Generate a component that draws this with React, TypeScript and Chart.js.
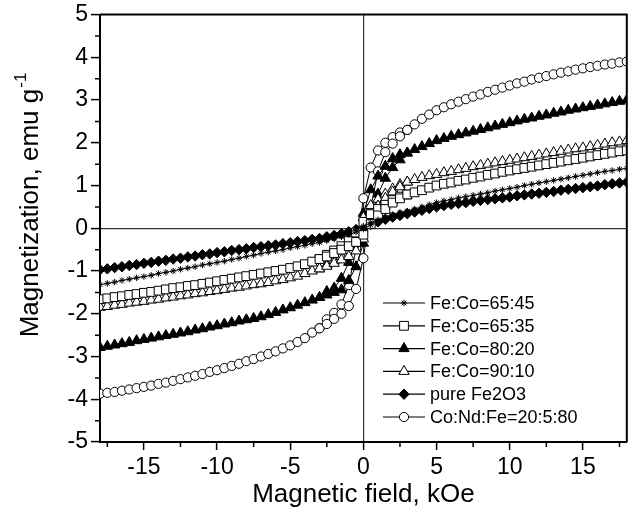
import React, { useEffect, useRef } from 'react';
import { Chart, registerables } from 'chart.js';

Chart.register(...registerables);

// Magnetic field (kOe), main branch sampling
const field = [
  -18, -17.5, -17, -16.5, -16, -15.5, -15, -14.5, -14, -13.5, -13, -12.5, -12, -11.5, -11, -10.5,
  -10, -9.5, -9, -8.5, -8, -7.5, -7, -6.5, -6, -5.5, -5, -4.5, -4, -3.5, -3, -2.5, -2, -1.5, -1, -0.5,
  0, 0.5, 1, 1.5, 2, 2.5, 3, 3.5, 4, 4.5, 5, 5.5, 6, 6.5, 7, 7.5, 8, 8.5, 9, 9.5, 10, 10.5,
  11, 11.5, 12, 12.5, 13, 13.5, 14, 14.5, 15, 15.5, 16, 16.5, 17, 17.5, 18,
];

// Fe:Co=65:45
const fe6545 = [
  -1.32, -1.29, -1.26, -1.22, -1.19, -1.16, -1.13, -1.1, -1.06, -1.03, -1.0, -0.96, -0.93, -0.9, -0.86, -0.83,
  -0.8, -0.77, -0.73, -0.7, -0.66, -0.63, -0.59, -0.56, -0.53, -0.5, -0.46, -0.43, -0.4, -0.36, -0.33, -0.29, -0.25, -0.2, -0.15, -0.09,
  -0.02, 0.08, 0.17, 0.24, 0.3, 0.35, 0.4, 0.45, 0.5, 0.55, 0.6, 0.64, 0.67, 0.71, 0.74, 0.77, 0.8, 0.83, 0.87, 0.9, 0.93, 0.96,
  1.0, 1.03, 1.06, 1.09, 1.12, 1.15, 1.18, 1.21, 1.24, 1.27, 1.3, 1.33, 1.35, 1.38, 1.4,
];
// Fe:Co=65:35
const fe6535 = [
  -1.66, -1.64, -1.61, -1.59, -1.56, -1.54, -1.51, -1.49, -1.46, -1.43, -1.4, -1.38, -1.35, -1.33, -1.3, -1.27,
  -1.24, -1.21, -1.18, -1.15, -1.12, -1.09, -1.06, -1.03, -1.0, -0.97, -0.93, -0.89, -0.84, -0.78, -0.72, -0.66, -0.58, -0.5, -0.42, -0.32,
  -0.15, 0.1, 0.3, 0.45, 0.6, 0.7, 0.79, 0.84, 0.89, 0.95, 1.0, 1.04, 1.07, 1.11, 1.14, 1.18, 1.21, 1.25, 1.28, 1.32, 1.35, 1.38,
  1.41, 1.44, 1.47, 1.5, 1.53, 1.56, 1.59, 1.62, 1.65, 1.68, 1.71, 1.74, 1.77, 1.8, 1.82,
];
// Fe:Co=80:20
const fe8020 = [
  -2.79, -2.76, -2.73, -2.7, -2.67, -2.63, -2.6, -2.57, -2.54, -2.51, -2.48, -2.45, -2.42, -2.38, -2.35, -2.31,
  -2.28, -2.24, -2.21, -2.17, -2.14, -2.11, -2.07, -2.02, -1.97, -1.91, -1.86, -1.8, -1.74, -1.68, -1.62, -1.56, -1.5, -1.44, -1.22, -0.9,
  -0.35, 0.25, 0.8, 1.17, 1.42, 1.6, 1.76, 1.84, 1.91, 1.98, 2.05, 2.1, 2.15, 2.19, 2.23, 2.27, 2.31, 2.35, 2.39, 2.43, 2.47, 2.51,
  2.55, 2.58, 2.62, 2.65, 2.69, 2.72, 2.76, 2.79, 2.82, 2.85, 2.88, 2.91, 2.94, 2.97, 3.0,
];
// Fe:Co=90:10
const fe9010 = [
  -1.85, -1.83, -1.8, -1.78, -1.75, -1.73, -1.71, -1.68, -1.66, -1.63, -1.61, -1.58, -1.56, -1.53, -1.51, -1.48,
  -1.46, -1.43, -1.4, -1.38, -1.35, -1.32, -1.3, -1.27, -1.23, -1.2, -1.16, -1.12, -1.06, -1.0, -0.95, -0.89, -0.82, -0.74, -0.66, -0.53,
  -0.25, 0.2, 0.52, 0.7, 0.85, 0.97, 1.08, 1.14, 1.19, 1.23, 1.26, 1.3, 1.33, 1.37, 1.4, 1.44, 1.47, 1.5, 1.53, 1.56, 1.59, 1.62,
  1.65, 1.68, 1.71, 1.74, 1.77, 1.8, 1.83, 1.86, 1.88, 1.91, 1.94, 1.97, 2.0, 2.02, 2.05,
];
// pure Fe2O3
const fe2o3 = [
  -0.97, -0.95, -0.92, -0.9, -0.87, -0.85, -0.82, -0.8, -0.77, -0.75, -0.72, -0.7, -0.67, -0.65, -0.62, -0.6,
  -0.57, -0.55, -0.52, -0.5, -0.48, -0.45, -0.43, -0.41, -0.39, -0.36, -0.34, -0.31, -0.29, -0.26, -0.24, -0.2, -0.17, -0.13, -0.08, -0.03,
  0.03, 0.09, 0.15, 0.21, 0.26, 0.3, 0.34, 0.38, 0.42, 0.46, 0.5, 0.53, 0.56, 0.58, 0.6, 0.63, 0.65, 0.67, 0.69, 0.71, 0.73, 0.76,
  0.78, 0.8, 0.82, 0.84, 0.86, 0.89, 0.91, 0.93, 0.95, 0.97, 0.99, 1.02, 1.04, 1.06, 1.08,
];
// Co:Nd:Fe=20:5:80
const coNdFe = [
  -3.87, -3.85, -3.83, -3.8, -3.77, -3.74, -3.71, -3.68, -3.64, -3.61, -3.57, -3.53, -3.49, -3.45, -3.41, -3.36,
  -3.32, -3.27, -3.22, -3.17, -3.11, -3.06, -3.0, -2.94, -2.88, -2.81, -2.74, -2.66, -2.57, -2.44, -2.34, -2.24, -2.12, -2.0, -1.82, -1.42,
  -0.7, 0.48, 1.33, 1.78, 1.98, 2.15, 2.3, 2.43, 2.56, 2.66, 2.76, 2.83, 2.9, 2.96, 3.02, 3.08, 3.13, 3.19, 3.24, 3.29, 3.34, 3.39,
  3.43, 3.48, 3.52, 3.56, 3.6, 3.64, 3.67, 3.71, 3.74, 3.77, 3.8, 3.83, 3.85, 3.88, 3.9,
];

// Return branch of the hysteresis loop near zero field
const loopField = [-3, -2.5, -2, -1.5, -1, -0.5, 0, 0.5, 1, 1.5, 2, 2.5, 3];
const fe6545Ret = [-0.33, -0.27, -0.22, -0.16, -0.1, -0.03, 0.05, 0.13, 0.2, 0.26, 0.32, 0.37, 0.4];
const fe6535Ret = [-0.72, -0.62, -0.52, -0.42, -0.3, -0.1, 0.15, 0.33, 0.45, 0.55, 0.66, 0.74, 0.79];
const fe8020Ret = [-1.62, -1.48, -1.4, -1.17, -0.8, -0.25, 0.35, 0.9, 1.22, 1.45, 1.63, 1.72, 1.76];
const fe9010Ret = [-0.95, -0.85, -0.76, -0.66, -0.52, -0.2, 0.25, 0.53, 0.68, 0.8, 0.92, 1.02, 1.08];
const coNdFeRet = [-2.34, -2.13, -1.98, -1.78, -1.33, -0.48, 0.7, 1.42, 1.82, 2.0, 2.13, 2.24, 2.3];

const xTicks = [-15, -10, -5, 0, 5, 10, 15];
const xMinorTicks = [-17.5, -12.5, -7.5, -2.5, 2.5, 7.5, 12.5, 17.5];
const yMinorTicks = [-4.5, -3.5, -2.5, -1.5, -0.5, 0.5, 1.5, 2.5, 3.5, 4.5];

const seriesLabels = [
  'Fe:Co=65:45',
  'Fe:Co=65:35',
  'Fe:Co=80:20',
  'Fe:Co=90:10',
  'pure Fe2O3',
  'Co:Nd:Fe=20:5:80',
];

const FONT = "'Liberation Sans', Arial, sans-serif";

type Style = { pointStyle: string; radius: number; fill: string };
const styles: Style[] = [
  { pointStyle: 'star', radius: 3.2, fill: '#000' },
  { pointStyle: 'rect', radius: 6.2, fill: '#fff' },
  { pointStyle: 'triangle', radius: 6, fill: '#000' },
  { pointStyle: 'triangle', radius: 6, fill: '#fff' },
  { pointStyle: 'rectRot', radius: 5.2, fill: '#000' },
  { pointStyle: 'circle', radius: 4.6, fill: '#fff' },
];

function drawMarker(ctx: CanvasRenderingContext2D, s: Style, x: number, y: number) {
  const r = s.radius;
  ctx.save();
  ctx.beginPath();
  ctx.lineWidth = 1;
  ctx.strokeStyle = '#000';
  ctx.fillStyle = s.fill;
  if (s.pointStyle === 'circle') {
    ctx.arc(x, y, r, 0, Math.PI * 2);
    ctx.fill();
    ctx.stroke();
  } else if (s.pointStyle === 'rect') {
    const h = r * Math.SQRT1_2;
    ctx.rect(x - h, y - h, 2 * h, 2 * h);
    ctx.fill();
    ctx.stroke();
  } else if (s.pointStyle === 'triangle') {
    for (let k = 0; k < 3; k++) {
      const a = -Math.PI / 2 + (k * 2 * Math.PI) / 3;
      const px = x + Math.cos(a) * r;
      const py = y + Math.sin(a) * r;
      if (k === 0) ctx.moveTo(px, py);
      else ctx.lineTo(px, py);
    }
    ctx.closePath();
    ctx.fill();
    ctx.stroke();
  } else if (s.pointStyle === 'rectRot') {
    ctx.moveTo(x, y - r);
    ctx.lineTo(x + r, y);
    ctx.lineTo(x, y + r);
    ctx.lineTo(x - r, y);
    ctx.closePath();
    ctx.fill();
    ctx.stroke();
  } else {
    for (let k = 0; k < 4; k++) {
      const a = (k * Math.PI) / 4;
      ctx.moveTo(x - Math.cos(a) * r, y - Math.sin(a) * r);
      ctx.lineTo(x + Math.cos(a) * r, y + Math.sin(a) * r);
    }
    ctx.stroke();
  }
  ctx.restore();
}

const decorations = {
  id: 'decorations',
  afterDatasetsDraw(chart: any) {
    const { ctx, chartArea, scales } = chart;
    const { left, right, top, bottom } = chartArea;
    ctx.save();
    // frame top and right
    ctx.strokeStyle = '#000';
    ctx.lineWidth = 2;
    ctx.beginPath();
    ctx.moveTo(left, top);
    ctx.lineTo(right, top);
    ctx.lineTo(right, bottom);
    ctx.stroke();
    // minor ticks
    ctx.lineWidth = 1.5;
    ctx.beginPath();
    xMinorTicks.forEach((v) => {
      const px = scales.x.getPixelForValue(v);
      ctx.moveTo(px, bottom);
      ctx.lineTo(px, bottom + 5);
    });
    yMinorTicks.forEach((v) => {
      const py = scales.y.getPixelForValue(v);
      ctx.moveTo(left - 5, py);
      ctx.lineTo(left, py);
    });
    ctx.stroke();

    // legend
    const legX = 383;
    const legY0 = 303;
    const legDy = 22.8;
    ctx.font = `18px ${FONT}`;
    ctx.textBaseline = 'middle';
    ctx.textAlign = 'left';
    ctx.fillStyle = '#000';
    seriesLabels.forEach((label, i) => {
      const y = legY0 + i * legDy;
      ctx.beginPath();
      ctx.lineWidth = 1.2;
      ctx.strokeStyle = '#000';
      ctx.moveTo(legX, y);
      ctx.lineTo(legX + 42, y);
      ctx.stroke();
      drawMarker(ctx, styles[i], legX + 21, y);
      ctx.fillStyle = '#000';
      ctx.fillText(label, legX + 47, y + 1);
    });

    // axis titles
    ctx.font = `26px ${FONT}`;
    ctx.textAlign = 'center';
    ctx.textBaseline = 'alphabetic';
    ctx.fillText('Magnetic field, kOe', (left + right) / 2, 502);

    const main = 'Magnetization, emu g';
    const sup = '-1';
    ctx.font = `26px ${FONT}`;
    const wMain = ctx.measureText(main).width;
    ctx.font = `17px ${FONT}`;
    const wSup = ctx.measureText(sup).width;
    const total = wMain + wSup + 1;
    ctx.translate(38, 205);
    ctx.rotate(-Math.PI / 2);
    ctx.textAlign = 'left';
    ctx.font = `26px ${FONT}`;
    ctx.fillText(main, -total / 2, 0);
    ctx.font = `17px ${FONT}`;
    ctx.fillText(sup, -total / 2 + wMain + 1, -12);
    ctx.restore();
  },
};

function mainSet(i: number, values: number[]) {
  const s = styles[i];
  return {
    label: seriesLabels[i],
    data: field.map((x, k) => ({ x, y: values[k] })),
    borderColor: '#000',
    borderWidth: 1,
    backgroundColor: s.fill,
    pointStyle: s.pointStyle,
    pointRadius: s.radius,
    pointBorderWidth: 1,
    pointBorderColor: '#000',
    pointBackgroundColor: s.fill,
    showLine: true,
    tension: 0,
  };
}

function retSet(i: number, values: number[]) {
  const s = styles[i];
  return {
    label: seriesLabels[i] + ' (return)',
    data: loopField.map((x, k) => ({ x, y: values[k] })),
    borderColor: '#000',
    borderWidth: 1,
    backgroundColor: s.fill,
    pointStyle: s.pointStyle,
    pointRadius: s.radius,
    pointBorderWidth: 1,
    pointBorderColor: '#000',
    pointBackgroundColor: s.fill,
    showLine: true,
    tension: 0,
  };
}

export default function App() {
  const ref = useRef<HTMLCanvasElement | null>(null);
  useEffect(() => {
    if (!ref.current) return;
    const chart = new Chart(ref.current, {
      type: 'scatter',
      data: {
        datasets: [
          mainSet(0, fe6545),
          retSet(0, fe6545Ret),
          mainSet(1, fe6535),
          retSet(1, fe6535Ret),
          mainSet(3, fe9010),
          retSet(3, fe9010Ret),
          mainSet(4, fe2o3),
          mainSet(2, fe8020),
          retSet(2, fe8020Ret),
          mainSet(5, coNdFe),
          retSet(5, coNdFeRet),
        ] as any,
      },
      options: {
        responsive: false,
        animation: false,
        devicePixelRatio: 1,
        layout: { padding: { left: 0, right: 5, top: 11, bottom: 0 } },
        plugins: { legend: { display: false }, tooltip: { enabled: false }, title: { display: false } },
        scales: {
          x: {
            type: 'linear',
            min: -18,
            max: 18,
            afterFit: (s: any) => {
              s.height = 73;
            },
            afterBuildTicks: (s: any) => {
              s.ticks = xTicks.map((v) => ({ value: v }));
            },
            border: { display: true, color: '#000', width: 2 },
            grid: {
              drawOnChartArea: true,
              drawTicks: true,
              tickLength: 8,
              tickWidth: 1.5,
              tickColor: '#000',
              lineWidth: 1.2,
              color: (c: any) => (c.tick && c.tick.value === 0 ? '#333' : 'rgba(0,0,0,0)'),
            },
            ticks: {
              color: '#000',
              font: { family: FONT, size: 23, lineHeight: 1 },
              padding: 6,
              maxRotation: 0,
              autoSkip: false,
            },
          },
          y: {
            type: 'linear',
            min: -5,
            max: 5,
            afterFit: (s: any) => {
              s.width = 100;
            },
            border: { display: true, color: '#000', width: 2 },
            grid: {
              drawOnChartArea: true,
              drawTicks: true,
              tickLength: 9,
              tickWidth: 1.5,
              tickColor: '#000',
              lineWidth: 1.2,
              color: (c: any) => (c.tick && c.tick.value === 0 ? '#333' : 'rgba(0,0,0,0)'),
            },
            ticks: {
              stepSize: 1,
              color: '#000',
              font: { family: FONT, size: 23, lineHeight: 1 },
              padding: 3,
              autoSkip: false,
            },
          },
        },
      },
      plugins: [decorations],
    });
    return () => chart.destroy();
  }, []);
  return (
    <div style={{ position: 'fixed', left: 0, top: 0, width: 634, height: 515, background: '#fff' }}>
      <canvas ref={ref} width={634} height={515} style={{ width: 634, height: 515, display: 'block' }} />
    </div>
  );
}
